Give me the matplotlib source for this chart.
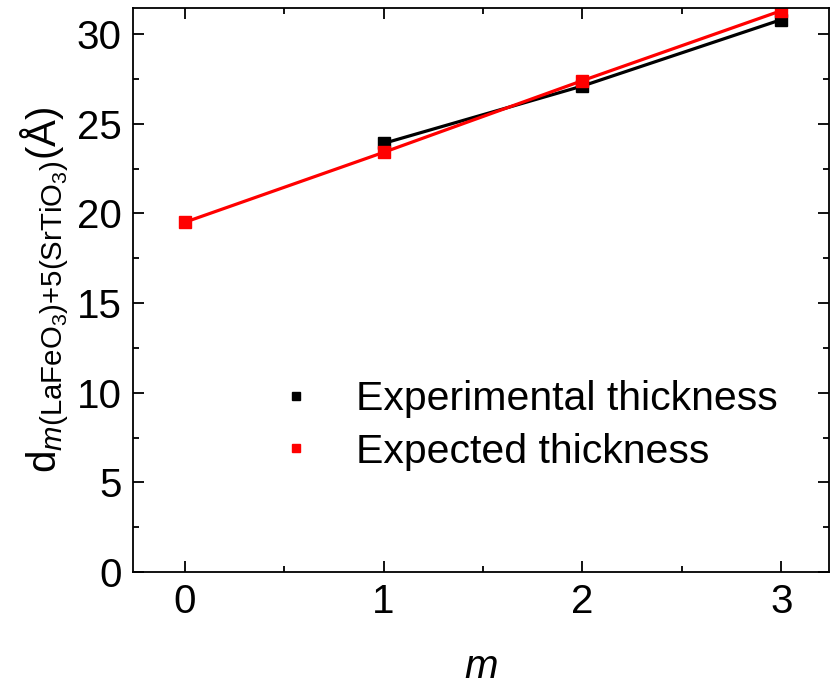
import numpy as np
import matplotlib.pyplot as plt
import matplotlib._mathtext as mt
from matplotlib.lines import Line2D
from matplotlib.ticker import MultipleLocator

plt.rcParams['font.family'] = ['Liberation Sans', 'DejaVu Sans']
plt.rcParams['mathtext.fontset'] = 'custom'
plt.rcParams['mathtext.rm'] = 'Liberation Sans'
plt.rcParams['mathtext.it'] = 'Liberation Sans:italic'
mt.SHRINK_FACTOR = 0.73  # slightly larger subscripts, like the original label

# data
m_exp = [1, 2, 3]
d_exp = [23.9, 27.1, 30.8]
m_calc = [0, 1, 2, 3]
d_calc = [19.5, 23.4, 27.4, 31.3]

fig = plt.figure(figsize=(8.33, 6.84), dpi=100)
ax = fig.add_axes([133/833, 1 - 572/684, (829-133)/833, (572-8)/684])

ax.plot(m_exp, d_exp, color='black', lw=2.3, marker='s', ms=8.5)
ax.plot(m_calc, d_calc, color='red', lw=2.3, marker='s', ms=8.5)

ax.set_xlim(-0.26, 3.24)
ax.set_ylim(0, 31.45)
ax.xaxis.set_major_locator(MultipleLocator(1))
ax.xaxis.set_minor_locator(MultipleLocator(0.5))
ax.yaxis.set_major_locator(MultipleLocator(5))
ax.yaxis.set_minor_locator(MultipleLocator(2.5))
ax.tick_params(which='both', direction='in', top=True, right=True, width=1.3, labelsize=29, pad=8)
ax.tick_params(which='major', length=8)
ax.tick_params(which='minor', length=4)
for s in ax.spines.values():
    s.set_linewidth(1.3)

ax.set_xlabel('$m$', fontsize=29, labelpad=19)
ax.set_ylabel(r'd$_{m\text{(LaFeO}_3\text{)+5(SrTiO}_3\text{)}}$(Å)', fontsize=29, labelpad=4)

handles = [Line2D([], [], color='black', marker='s', ls='none', ms=6),
           Line2D([], [], color='red', marker='s', ls='none', ms=6)]
ax.legend(handles, ['Experimental thickness', 'Expected thickness'],
          loc='upper left', bbox_to_anchor=(0.205, 0.34), frameon=False,
          fontsize=29.5, handlelength=1.0, handletextpad=0.95, labelspacing=0.35,
          borderpad=0, borderaxespad=0)

fig.savefig('out.png', dpi=100)
